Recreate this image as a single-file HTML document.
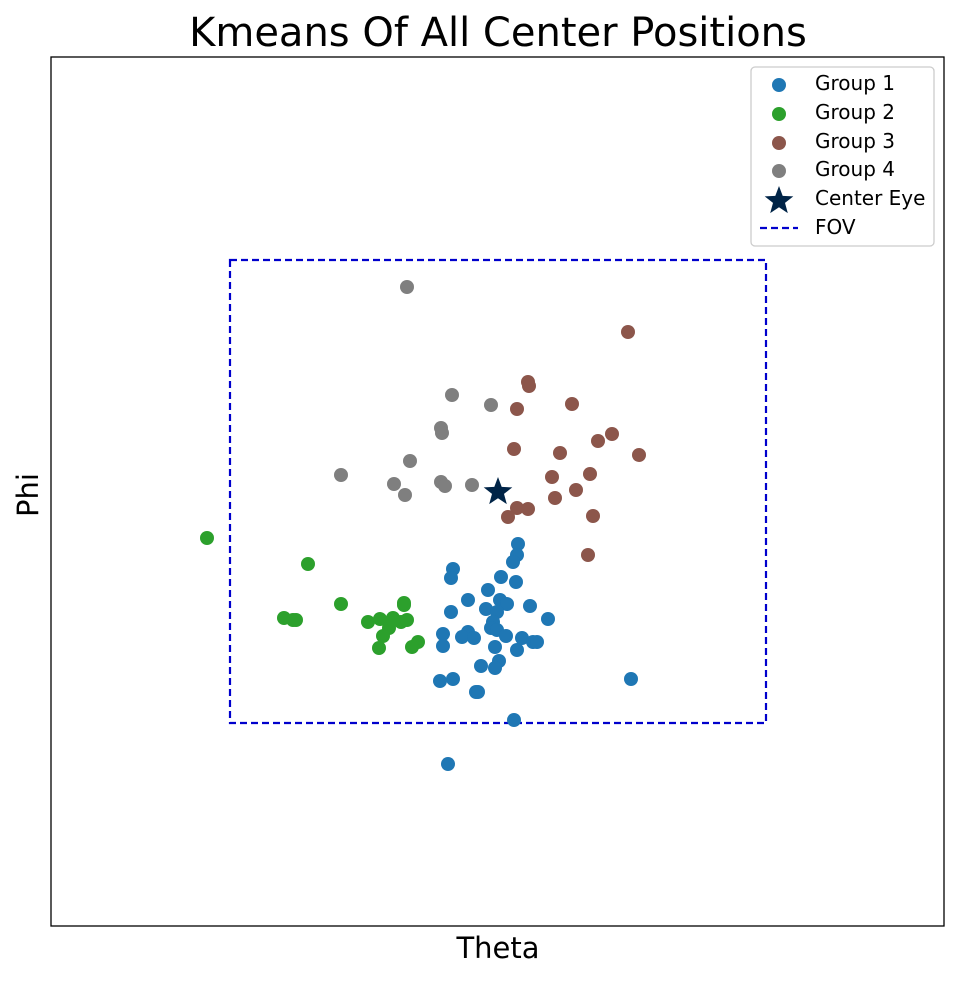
<!DOCTYPE html>
<html><head><meta charset="utf-8"><style>
body{margin:0;background:#fff;}
svg text{font-family:"DejaVu Sans","Liberation Sans",sans-serif;}
</style></head><body>
<svg id="chart" width="958" height="978" xmlns="http://www.w3.org/2000/svg">
<rect width="958" height="978" fill="#fff"/>
<text x="498" y="46" font-size="40" text-anchor="middle">Kmeans Of All Center Positions</text>
<text x="498" y="958" font-size="29" text-anchor="middle">Theta</text>
<text x="38" y="495" font-size="29" text-anchor="middle" transform="rotate(-90 38 495)">Phi</text>
<g id="plot"></g>
<rect x="51" y="57" width="893" height="869" fill="none" stroke="#000" stroke-width="1.3"/>
<g>
<rect x="751" y="67" width="183" height="179" rx="4" fill="#fff" stroke="#ccc" stroke-width="1.3"/>
<circle cx="779" cy="85" r="7" fill="#1f77b4"/>
<text x="815" y="90" font-size="20">Group 1</text>
<circle cx="779" cy="114" r="7" fill="#2ca02c"/>
<text x="815" y="119" font-size="20">Group 2</text>
<circle cx="779" cy="143" r="7" fill="#8c564b"/>
<text x="815" y="148" font-size="20">Group 3</text>
<circle cx="779" cy="171" r="7" fill="#7f7f7f"/>
<text x="815" y="176" font-size="20">Group 4</text>
<polygon id="legstar" fill="#002447"/>
<text x="815" y="205" font-size="20">Center Eye</text>
<line x1="760" y1="228" x2="798" y2="228" stroke="#0000cc" stroke-width="2.2" stroke-dasharray="7,4"/>
<text x="815" y="234" font-size="20">FOV</text>
</g>
</svg>
<script>
// data units: theta, phi (arbitrary; no ticks shown)
const xDomain=[-447,446], yDomain=[-435,434];
const group1Theta=[20,19,15,-45,-47,3,18,-10,-30,2,9,-12,-47,32,-1,50,-5,-7,-1,-55,-30,-36,-24,8,24,35,39,-55,-3,19,1,-17,-3,-58,-45,-22,-20,133,16,-50];
const group1Phi=[-53,-64,-71,-78,-87,-86,-91,-99,-109,-109,-113,-118,-121,-115,-121,-128,-131,-137,-139,-143,-141,-146,-147,-145,-147,-151,-151,-155,-156,-159,-170,-175,-177,-190,-188,-201,-201,-188,-229,-273];
const group2Theta=[-291,-190,-157,-94,-94,-214,-205,-202,-130,-118,-105,-97,-91,-109,-115,-80,-86,-119,-105];
const group2Phi=[-47,-73,-113,-112,-114,-127,-129,-129,-131,-128,-127,-131,-129,-137,-145,-151,-156,-157,-129];
const group3Theta=[130,30,31,74,19,114,100,16,62,141,92,54,78,57,19,30,10,95,90];
const group3Phi=[159,109,105,87,82,57,50,42,38,36,17,14,1,-7,-17,-18,-26,-25,-64];
const group4Theta=[-91,-46,-7,-57,-56,-88,-157,-104,-57,-53,-26,-93];
const group4Phi=[204,96,86,63,58,30,16,7,9,5,6,-4];
const centerTheta=[0], centerPhi=[0];
const fovTheta=[-268,268], fovPhi=[-232,231];
const X0=51,X1=944,Y0=926,Y1=57;
const sx=v=>X0+(v-xDomain[0])/(xDomain[1]-xDomain[0])*(X1-X0);
const sy=v=>Y0-(v-yDomain[0])/(yDomain[1]-yDomain[0])*(Y0-Y1);
const NS="http://www.w3.org/2000/svg";
const plot=document.getElementById('plot');
const fov=document.createElementNS(NS,'rect');
fov.setAttribute('x',sx(fovTheta[0]));fov.setAttribute('y',sy(fovPhi[1]));
fov.setAttribute('width',sx(fovTheta[1])-sx(fovTheta[0]));fov.setAttribute('height',sy(fovPhi[0])-sy(fovPhi[1]));
fov.setAttribute('fill','none');fov.setAttribute('stroke','#0000cc');fov.setAttribute('stroke-width','2.2');fov.setAttribute('stroke-dasharray','7,4');


plot.appendChild(fov);
function pts(xs,ys,color,name){
  xs.forEach((t,i)=>{
    const c=document.createElementNS(NS,'circle');
    c.setAttribute('cx',sx(t));c.setAttribute('cy',sy(ys[i]));c.setAttribute('r',7);c.setAttribute('fill',color);
    
    
    plot.appendChild(c);
  });
}
pts(group1Theta,group1Phi,'#1f77b4','group-1');
pts(group2Theta,group2Phi,'#2ca02c','group-2');
pts(group3Theta,group3Phi,'#8c564b','group-3');
pts(group4Theta,group4Phi,'#7f7f7f','group-4');
function starPts(cx,cy,R){const r=R*0.42;let p=[];for(let k=0;k<10;k++){const a=-Math.PI/2+k*Math.PI/5;const rr=k%2?r:R;p.push((cx+rr*Math.cos(a)).toFixed(1)+','+(cy+rr*Math.sin(a)).toFixed(1));}return p.join(' ');}
const st=document.createElementNS(NS,'polygon');
st.setAttribute('points',starPts(sx(centerTheta[0]),sy(centerPhi[0])+1,15));
st.setAttribute('fill','#002447');


plot.appendChild(st);
document.getElementById('legstar').setAttribute('points',starPts(779,201,15));
</script>
</body></html>
